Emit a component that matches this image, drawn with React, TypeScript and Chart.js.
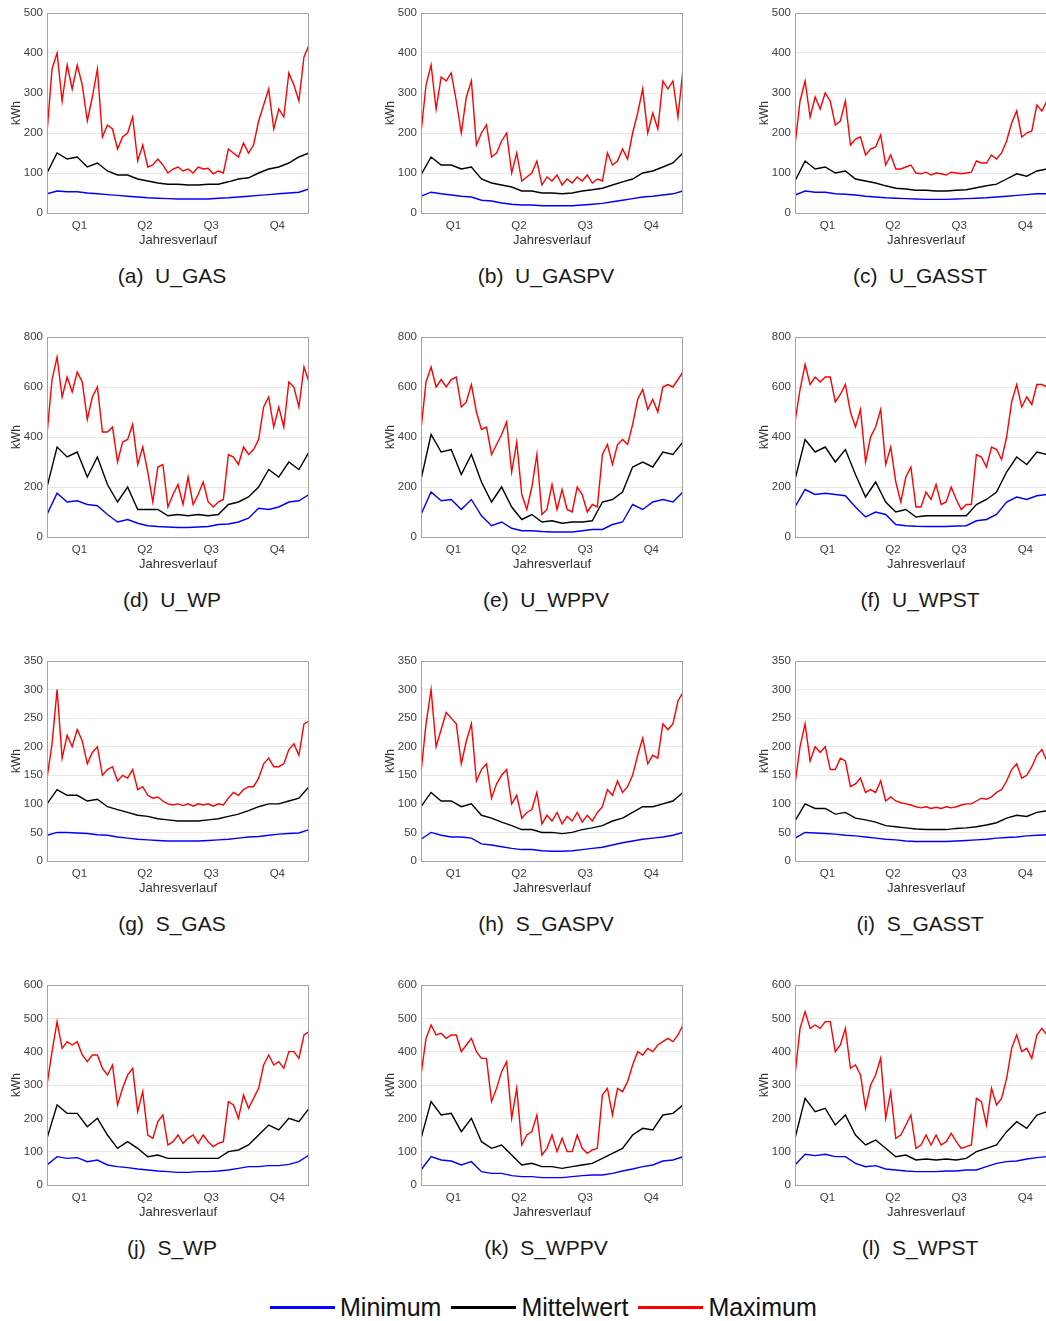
import React, { useEffect, useRef } from "react";
import { Chart, registerables } from "chart.js";

Chart.register(...registerables);

// ---- categories / axes ----
const weekDays = [0, 7, 14, 21, 28, 35, 42, 49, 56, 63, 70, 77, 84, 91, 98, 105, 112, 119, 126, 133, 140, 147, 154, 161, 168, 175, 182, 189, 196, 203, 210, 217, 224, 231, 238, 245, 252, 259, 266, 273, 280, 287, 294, 301, 308, 315, 322, 329, 336, 343, 350, 357, 364];
const halfMonthDays = [0, 14, 28, 42, 56, 70, 84, 98, 112, 126, 140, 154, 168, 182, 196, 210, 224, 238, 252, 266, 280, 294, 308, 322, 336, 350, 364];
const quarterTickDays = [45, 136, 228, 320];
const quarterTickLabels = ["Q1", "Q2", "Q3", "Q4"];
const xAxisTitle = "Jahresverlauf";
const yAxisTitle = "kWh";
const legendLabels = ["Minimum", "Mittelwert", "Maximum"];
const panelCaptions = ["(a)  U_GAS", "(b)  U_GASPV", "(c)  U_GASST", "(d)  U_WP", "(e)  U_WPPV", "(f)  U_WPST", "(g)  S_GAS", "(h)  S_GASPV", "(i)  S_GASST", "(j)  S_WP", "(k)  S_WPPV", "(l)  S_WPST"];
const yAxisMax = [500, 500, 500, 800, 800, 800, 350, 350, 350, 600, 600, 600];
const yAxisStep = [100, 100, 100, 200, 200, 200, 50, 50, 50, 100, 100, 100];

// ---- series values (kWh) ----
const uGasMax = [200, 360, 400, 280, 370, 310, 370, 320, 230, 290, 360, 190, 220, 210, 160, 190, 200, 240, 130, 170, 115, 120, 135, 120, 100, 110, 115, 105, 110, 100, 115, 110, 112, 98, 105, 100, 160, 150, 140, 175, 150, 170, 230, 270, 310, 210, 260, 240, 350, 320, 280, 390, 420];
const uGasMean = [100, 150, 135, 140, 115, 125, 105, 95, 95, 85, 80, 75, 72, 72, 70, 70, 72, 72, 78, 85, 88, 100, 110, 115, 125, 140, 150];
const uGasMin = [48, 55, 53, 53, 50, 48, 46, 44, 42, 40, 38, 37, 36, 35, 35, 35, 35, 37, 38, 40, 42, 44, 46, 48, 50, 52, 60];

const uGasPvMax = [200, 320, 370, 260, 340, 330, 350, 280, 200, 290, 330, 170, 200, 220, 140, 150, 180, 200, 100, 150, 80, 90, 100, 130, 70, 90, 80, 95, 70, 85, 75, 90, 80, 95, 75, 85, 80, 150, 120, 130, 160, 135, 200, 250, 310, 200, 250, 210, 330, 310, 330, 240, 360];
const uGasPvMean = [95, 140, 120, 120, 110, 115, 85, 75, 70, 65, 55, 55, 50, 50, 48, 50, 55, 58, 62, 70, 78, 85, 100, 105, 115, 125, 150];
const uGasPvMin = [42, 52, 48, 45, 42, 40, 32, 30, 25, 22, 20, 20, 18, 18, 18, 18, 20, 22, 24, 28, 32, 36, 40, 42, 45, 48, 55];

const uGasStMax = [170, 280, 330, 240, 290, 260, 300, 280, 220, 230, 280, 170, 185, 190, 145, 160, 165, 195, 120, 145, 110, 110, 115, 120, 100, 98, 102, 95, 100, 98, 95, 102, 100, 98, 100, 102, 130, 125, 125, 145, 135, 150, 180, 225, 255, 190, 200, 205, 270, 255, 280, 250, 270];
const uGasStMean = [80, 130, 110, 115, 100, 105, 85, 80, 75, 68, 62, 60, 57, 57, 55, 55, 57, 58, 63, 68, 72, 85, 98, 92, 105, 110, 115];
const uGasStMin = [45, 55, 52, 52, 48, 47, 45, 42, 40, 38, 37, 36, 35, 34, 34, 34, 35, 36, 37, 38, 40, 42, 44, 46, 48, 48, 50];

const uWpMax = [410, 630, 720, 560, 640, 580, 660, 620, 470, 560, 600, 420, 420, 440, 300, 380, 390, 450, 290, 360, 260, 140, 280, 290, 120, 170, 210, 130, 240, 130, 170, 220, 140, 120, 140, 150, 330, 320, 290, 360, 330, 350, 390, 520, 560, 440, 520, 440, 620, 600, 520, 680, 620];
const uWpMean = [200, 360, 320, 340, 240, 320, 210, 140, 200, 110, 110, 110, 85, 90, 85, 90, 85, 90, 130, 140, 160, 200, 270, 240, 300, 270, 340];
const uWpMin = [90, 175, 140, 145, 130, 125, 90, 60, 70, 55, 45, 42, 40, 38, 38, 40, 42, 50, 52, 60, 75, 115, 110, 120, 140, 145, 170];

const uWpPvMax = [430, 620, 680, 600, 630, 600, 630, 640, 520, 540, 610, 500, 430, 440, 330, 370, 410, 460, 260, 380, 170, 110, 200, 330, 90, 110, 210, 110, 190, 110, 100, 200, 170, 100, 130, 120, 330, 370, 290, 370, 390, 370, 450, 550, 590, 510, 550, 500, 600, 610, 600, 630, 660];
const uWpPvMean = [230, 410, 340, 350, 250, 330, 220, 140, 200, 120, 70, 90, 60, 65, 55, 60, 60, 65, 140, 150, 180, 280, 300, 280, 340, 330, 380];
const uWpPvMin = [90, 180, 145, 150, 110, 150, 85, 45, 60, 35, 25, 25, 22, 20, 20, 20, 25, 30, 30, 50, 60, 130, 110, 140, 150, 140, 180];

const uWpStMax = [460, 590, 690, 610, 640, 620, 640, 640, 540, 570, 610, 500, 440, 510, 300, 400, 440, 510, 290, 360, 220, 140, 240, 280, 120, 120, 180, 150, 210, 130, 140, 200, 150, 110, 130, 130, 330, 320, 280, 360, 350, 310, 400, 540, 610, 520, 560, 530, 610, 610, 600, 610, 620];
const uWpStMean = [230, 390, 340, 360, 300, 350, 250, 160, 220, 140, 100, 110, 80, 85, 85, 85, 85, 85, 130, 150, 180, 260, 320, 290, 340, 330, 340];
const uWpStMin = [120, 190, 170, 175, 170, 165, 120, 80, 100, 90, 50, 45, 43, 42, 42, 42, 44, 45, 65, 70, 90, 140, 160, 150, 165, 170, 170];

const sGasMax = [145, 205, 300, 180, 220, 200, 230, 210, 170, 190, 200, 150, 160, 165, 140, 150, 145, 160, 125, 130, 115, 110, 112, 105, 100, 98, 100, 97, 100, 96, 100, 98, 100, 96, 100, 98, 110, 120, 115, 125, 130, 130, 145, 170, 180, 165, 165, 170, 195, 205, 185, 240, 245];
const sGasMean = [100, 125, 115, 115, 105, 108, 95, 90, 85, 80, 78, 74, 72, 70, 70, 70, 72, 74, 78, 82, 88, 95, 100, 100, 105, 110, 130];
const sGasMin = [45, 50, 50, 49, 48, 46, 45, 42, 40, 38, 37, 36, 35, 35, 35, 35, 36, 37, 38, 40, 42, 43, 45, 47, 48, 49, 55];

const sGasPvMax = [155, 240, 300, 200, 230, 260, 250, 240, 170, 210, 240, 140, 160, 170, 110, 135, 150, 160, 100, 115, 75, 85, 90, 120, 65, 80, 70, 85, 65, 78, 70, 85, 68, 80, 70, 85, 95, 125, 115, 140, 120, 130, 150, 185, 215, 170, 185, 180, 240, 230, 240, 280, 295];
const sGasPvMean = [95, 120, 105, 105, 95, 100, 80, 75, 68, 62, 55, 55, 50, 50, 48, 50, 55, 58, 62, 70, 75, 85, 95, 95, 100, 105, 120];
const sGasPvMin = [38, 50, 45, 42, 42, 40, 30, 28, 25, 22, 20, 20, 18, 17, 17, 18, 20, 22, 24, 28, 32, 35, 38, 40, 42, 45, 50];

const sGasStMax = [135, 200, 240, 175, 200, 190, 200, 160, 160, 180, 175, 130, 135, 145, 120, 125, 120, 140, 105, 112, 105, 102, 100, 98, 95, 93, 95, 92, 94, 92, 95, 93, 95, 98, 100, 100, 105, 110, 108, 112, 120, 125, 140, 160, 170, 145, 150, 165, 185, 195, 175, 185, 180];
const sGasStMean = [70, 100, 92, 92, 82, 85, 75, 72, 68, 62, 60, 58, 56, 55, 55, 55, 57, 58, 60, 63, 67, 75, 80, 78, 85, 88, 90];
const sGasStMin = [40, 50, 49, 48, 47, 45, 44, 42, 40, 38, 37, 35, 34, 34, 34, 34, 35, 36, 37, 38, 40, 41, 42, 44, 45, 46, 47];

const sWpMax = [300, 400, 490, 410, 430, 420, 430, 390, 370, 390, 390, 350, 330, 360, 240, 290, 330, 350, 220, 280, 150, 140, 190, 210, 120, 130, 150, 125, 140, 150, 125, 150, 130, 115, 125, 130, 250, 240, 200, 270, 230, 260, 290, 360, 390, 360, 370, 350, 400, 400, 380, 450, 460];
const sWpMean = [140, 240, 215, 215, 175, 200, 150, 110, 130, 110, 85, 90, 80, 80, 80, 80, 80, 80, 100, 105, 120, 150, 180, 165, 200, 190, 230];
const sWpMin = [60, 85, 80, 82, 70, 75, 60, 55, 52, 48, 45, 42, 40, 38, 38, 40, 40, 42, 45, 50, 55, 55, 58, 58, 62, 70, 90];

const sWpPvMax = [330, 440, 480, 450, 455, 440, 450, 450, 400, 420, 440, 400, 380, 380, 250, 290, 340, 370, 200, 290, 120, 150, 160, 210, 90, 110, 150, 100, 140, 100, 100, 150, 110, 95, 105, 110, 270, 290, 210, 290, 280, 310, 360, 400, 390, 410, 400, 420, 430, 440, 430, 450, 480];
const sWpPvMean = [140, 250, 210, 215, 160, 200, 130, 110, 120, 90, 60, 65, 55, 55, 50, 55, 60, 65, 80, 95, 110, 150, 170, 165, 210, 215, 240];
const sWpPvMin = [45, 85, 75, 72, 60, 70, 40, 35, 35, 28, 25, 25, 22, 22, 22, 25, 28, 30, 30, 35, 42, 48, 55, 60, 72, 75, 85];

const sWpStMax = [330, 470, 520, 470, 480, 470, 490, 490, 400, 420, 470, 350, 360, 330, 230, 300, 330, 380, 200, 280, 140, 150, 180, 210, 110, 120, 150, 120, 150, 120, 130, 155, 130, 110, 115, 120, 260, 250, 180, 290, 240, 260, 320, 410, 450, 400, 410, 380, 450, 470, 450, 460, 470];
const sWpStMean = [140, 260, 220, 230, 180, 210, 150, 120, 135, 110, 85, 90, 75, 78, 75, 78, 75, 80, 100, 110, 120, 160, 190, 170, 210, 220, 200];
const sWpStMin = [60, 92, 88, 92, 85, 85, 65, 55, 58, 48, 45, 42, 40, 40, 40, 42, 42, 45, 45, 55, 65, 70, 72, 78, 82, 85, 85];

const maxSeries = [uGasMax, uGasPvMax, uGasStMax, uWpMax, uWpPvMax, uWpStMax, sGasMax, sGasPvMax, sGasStMax, sWpMax, sWpPvMax, sWpStMax];
const meanSeries = [uGasMean, uGasPvMean, uGasStMean, uWpMean, uWpPvMean, uWpStMean, sGasMean, sGasPvMean, sGasStMean, sWpMean, sWpPvMean, sWpStMean];
const minSeries = [uGasMin, uGasPvMin, uGasStMin, uWpMin, uWpPvMin, uWpStMin, sGasMin, sGasPvMin, sGasStMin, sWpMin, sWpPvMin, sWpStMin];

const seriesColors = ["#0000ff", "#000000", "#ff0000"];
const FONT = "'Liberation Sans', Arial, Helvetica, sans-serif";

const boxPlugin = {
  id: "plotBox",
  afterDatasetsDraw(chart: any) {
    const { ctx, chartArea } = chart;
    const { left, top, right, bottom } = chartArea;
    ctx.save();
    ctx.strokeStyle = "#a3a3a3";
    ctx.lineWidth = 1;
    ctx.strokeRect(Math.round(left) + 0.5, Math.round(top) + 0.5, Math.round(right - left) - 1, Math.round(bottom - top));
    ctx.restore();
  },
};

function toPoints(xs: number[], ys: number[]) {
  return ys.map((y, i) => ({ x: xs[i], y }));
}

function Panel({ idx }: { idx: number }) {
  const ref = useRef<HTMLCanvasElement>(null);
  const col = idx % 3;
  const row = Math.floor(idx / 3);
  useEffect(() => {
    const canvas = ref.current;
    if (!canvas) return;
    const chart = new Chart(canvas, {
      type: "line",
      data: {
        datasets: [
          { label: legendLabels[2], data: toPoints(weekDays, maxSeries[idx]), borderColor: seriesColors[2], borderWidth: 1.4, pointRadius: 0, tension: 0 },
          { label: legendLabels[1], data: toPoints(halfMonthDays, meanSeries[idx]), borderColor: seriesColors[1], borderWidth: 1.4, pointRadius: 0, tension: 0 },
          { label: legendLabels[0], data: toPoints(halfMonthDays, minSeries[idx]), borderColor: seriesColors[0], borderWidth: 1.4, pointRadius: 0, tension: 0 },
        ],
      },
      options: {
        responsive: false,
        animation: false,
        layout: { padding: { left: 0, right: 65, top: 13, bottom: 2 } },
        plugins: { legend: { display: false }, tooltip: { enabled: false } },
        scales: {
          x: {
            type: "linear",
            position: "bottom",
            min: 0,
            max: 364,
            afterBuildTicks: (s: any) => {
              s.ticks = quarterTickDays.map((v) => ({ value: v }));
            },
            ticks: {
              autoSkip: false,
              maxRotation: 0,
              padding: 6,
              color: "#404040",
              font: { family: FONT, size: 11.5 },
              callback: (_v: any, i: number) => quarterTickLabels[i],
            },
            grid: { display: false, drawTicks: false },
            border: { display: false },
            title: { display: true, text: xAxisTitle, color: "#333333", font: { family: FONT, size: 13 }, padding: { top: 0, bottom: 0 } },
            afterFit: (s: any) => {
              s.height = 35;
            },
          },
          y: {
            min: 0,
            max: yAxisMax[idx],
            ticks: { stepSize: yAxisStep[idx], padding: 4, color: "#404040", font: { family: FONT, size: 11.5 } },
            grid: { color: "#e8e8e8", drawTicks: false },
            border: { display: false },
            title: { display: true, text: yAxisTitle, color: "#333333", font: { family: FONT, size: 12 }, padding: { top: 9, bottom: 0 } },
            afterFit: (s: any) => {
              s.width = 47;
            },
          },
        },
      },
      plugins: [boxPlugin],
    } as any);
    return () => chart.destroy();
  }, [idx]);

  return (
    <>
      <canvas
        ref={ref}
        width={374}
        height={250}
        style={{ position: "absolute", left: 374 * col, top: 324 * row, width: 374, height: 250, display: "block" }}
      />
      <div
        style={{
          position: "absolute",
          left: 374 * col + 22,
          top: 324 * row + 262,
          width: 300,
          textAlign: "center",
          fontFamily: FONT,
          fontSize: 21,
          lineHeight: "28px",
          color: "#1a1a1a",
          whiteSpace: "pre",
        }}
      >
        {panelCaptions[idx]}
      </div>
    </>
  );
}

export default function App() {
  return (
    <div style={{ position: "absolute", left: 0, top: 0, width: 1046, height: 1321, overflow: "hidden", background: "#ffffff" }}>
      {panelCaptions.map((_, i) => (
        <Panel key={i} idx={i} />
      ))}
      <div
        style={{
          position: "absolute",
          left: 270,
          top: 1293,
          height: 28,
          display: "flex",
          alignItems: "center",
          fontFamily: FONT,
          fontSize: 25,
          color: "#111111",
          whiteSpace: "nowrap",
        }}
      >
        {legendLabels.map((lab, i) => (
          <React.Fragment key={lab}>
            <span style={{ display: "inline-block", width: 65, height: 3, background: seriesColors[i], marginRight: 5 }} />
            <span style={{ marginRight: 10 }}>{lab}</span>
          </React.Fragment>
        ))}
      </div>
    </div>
  );
}
